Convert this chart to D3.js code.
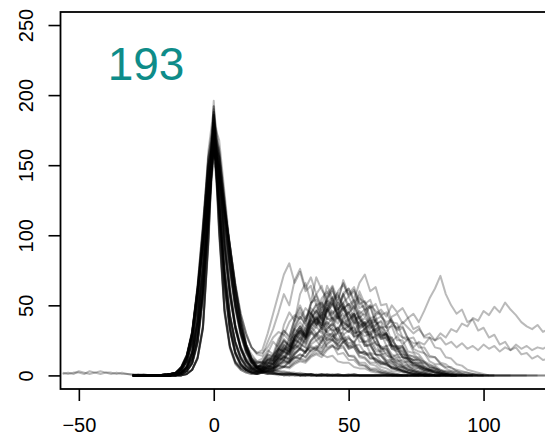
<!DOCTYPE html>
<html>
<head>
<meta charset="utf-8">
<script src="https://cdn.jsdelivr.net/npm/d3@7"></script>
<style>
body { margin: 0; background: #fff; }
svg text { font-family: "Liberation Sans", Arial, Helvetica, sans-serif; }
</style>
</head>
<body>
<div id="chart"></div>
<script>
// every run is sampled every 2 days, starting at its own first day
var step = 2;
var xTicks = [-50, 0, 50, 100];
var yTicks = [0, 50, 100, 150, 200, 250];
var label = "193";

var s01 = [0,0,0,0,0,0,0,0,1,2,6,16,38,75,125,172,140,92,58,34,19,10,5,3,6,11,9,17,22,19,30,35,28,44,38,52,46,55,41,49,37,44,33,36,25,29,18,21,13,15,9,10,6,5,3,4,2,1,1,0,0];
var s02 = [0,0,0,0,0,0,0,0,0,0,1,4,12,34,96,186,104,46,20,9,5,4,4,5,9,16,24,20,36,45,39,58,66,52,70,61,55,63,47,52,39,43,30,33,22,24,15,16,10,9,6,5,3,2,2,1,0,0];
var s03 = [0,0,0,0,0,0,1,1,2,6,14,30,60,94,132,158,145,118,92,64,40,22,12,6,3,5,4,8,11,9,15,19,16,24,28,23,33,37,31,42,45,38,44,36,40,31,34,25,27,19,20,14,14,9,9,6,5,3,3,2,1,1,0,0];
var s04 = [0,0,0,0,0,0,0,1,1,4,10,24,52,96,148,176,150,112,78,50,30,17,9,5,5,9,8,14,19,16,27,33,28,41,47,40,55,62,50,58,47,53,41,45,34,36,26,27,19,18,13,12,8,7,5,4,2,2,1,0,0];
var s05 = [0,0,0,0,0,0,0,0,1,2,5,12,30,62,112,165,156,122,86,56,34,22,15,10,12,18,15,26,32,28,40,48,39,45,36,41,31,34,25,27,19,20,14,13,9,9,6,5,3,3,2,1,0,0];
var s06 = [0,0,0,0,0,0,0,0,0,1,3,9,24,58,118,192,126,68,34,16,8,4,2,1,3,2,2,1,2,1,1,0,1,0,1,0,0,1,0,0,0,1,0,0,0,0,1,0,0,0,0,0,0,0,0,0,0,0,0,0,0,0,0,0,0,0,0,0,0,0,0];
var s07 = [0,0,0,0,0,0,1,1,2,6,14,30,60,94,132,160,145,118,92,64,44,30,20,15,14,24,33,45,58,50,68,76,62,70,58,64,50,53,41,44,33,34,24,24,16,15,10,9,6,5,3,2,1,0];
var s08 = [0,0,0,0,0,0,0,1,2,5,13,30,62,104,150,168,120,74,42,23,12,6,3,2,4,7,6,12,16,14,22,28,24,35,40,34,47,52,45,58,50,54,44,47,37,39,29,30,21,21,15,14,9,8,5,4,3,2,1,1,0,0];
var s09 = [0,0,0,0,0,0,0,0,1,2,6,17,40,79,131,180,146,96,61,36,21,12,7,6,8,13,11,19,25,21,33,38,32,44,50,41,47,39,43,33,36,27,29,21,22,15,15,10,10,6,6,4,3,2,1,1,0,0];
var s10 = [0,0,0,0,0,0,0,0,0,0,1,4,12,33,92,178,100,44,19,8,4,2,1,1,2,1,1,1,0,1,0,0,1,0,0,0,0,0,1,0,0,0,0,0,0,0,0,0,0,0,0,0,0,0,0,0,0,0,0,0,0,0,0,0,0,0,0,0,0,0,0,0,0,0,0,0,0,0];
var s11 = [0,0,0,0,0,0,0,1,1,4,10,23,50,92,142,170,146,108,75,48,29,16,9,5,5,7,6,10,13,11,16,19,16,22,25,20,27,30,23,26,20,22,16,17,12,12,8,8,5,5,3,2,1,1,0,0];
var s12 = [0,0,0,0,0,0,0,0,0,1,3,9,25,60,120,184,124,68,35,17,9,5,3,3,5,9,8,15,20,17,28,35,30,44,51,43,58,64,54,66,56,60,48,50,39,40,29,29,20,19,13,12,8,6,4,3,2,1,0,0];
var s13 = [0,0,0,0,0,0,0,0,1,2,5,12,30,62,112,165,156,122,86,56,34,19,10,5,2,3,3,5,7,6,10,12,11,15,18,16,22,25,22,29,32,28,35,38,33,40,42,36,39,32,34,26,27,20,20,14,13,9,8,5,4,3,2,1,1,0,0];
var s14 = [0,0,0,0,0,0,0,0,1,3,7,17,39,75,122,166,136,90,57,34,20,12,9,9,10,15,13,22,29,25,38,45,39,52,54,45,50,40,44,35,37,28,29,21,21,15,14,10,9,6,5,3,2,1,1,0];
var s15 = [0,0,0,0,0,0,1,1,2,6,14,31,62,96,130,152,140,114,88,60,37,20,10,6,4,3,2,2,1,2,1,1,0,1,0,0,1,0,0,0,0,0,0,0,0,0,0,0,0,0,0,0,0,0,0,0,0,0,0,0,0,0,0,0,0,0];
var s16 = [0,0,0,0,0,0,0,1,2,5,13,31,64,108,154,174,124,76,43,24,13,7,4,3,3,5,5,9,13,11,18,23,20,30,35,30,41,46,40,52,56,48,60,51,54,43,45,34,35,25,25,17,16,11,10,6,5,3,2,1,1,0,0];
var s17 = [0,0,0,0,0,0,0,1,1,4,10,24,52,96,148,176,150,112,78,50,32,20,12,9,9,14,12,19,24,21,29,35,28,32,25,28,20,22,15,16,11,11,7,7,4,4,2,2,1,0,0];
var s18 = [0,0,0,0,0,0,0,0,0,0,1,4,13,36,100,192,108,48,21,10,5,3,2,2,3,6,5,10,14,12,20,26,22,32,38,33,45,51,44,57,62,54,66,72,60,63,50,51,38,37,27,25,17,15,10,8,5,4,2,1,0,0];
var s19 = [0,0,0,0,0,0,0,0,0,1,3,8,22,54,108,170,116,62,31,15,7,4,2,1,2,2,1,1,0,0,1,0,0,0,0,0,0,0,0,0,0,0,0,0,0,0,0,0,0,0,0,0,0,0,0,0,0,0,0,0,0];
var s20 = [0,0,0,0,0,0,0,0,1,2,6,16,39,78,132,186,150,98,62,36,20,11,6,4,6,10,8,15,20,17,27,32,27,38,43,36,47,41,45,36,39,30,32,24,24,17,17,11,11,7,6,4,3,2,1,0,0];
var s21 = [0,0,0,0,0,0,0,0,1,2,5,13,31,65,118,174,162,126,88,57,35,20,11,6,7,12,11,19,26,22,35,42,37,51,57,47,53,44,48,38,40,30,31,22,22,15,14,9,8,5,4,2,1,1,0,0];
var s22 = [0,0,0,0,0,0,0,1,2,5,12,28,58,98,142,160,114,70,40,22,12,7,4,3,4,6,5,8,10,9,13,15,13,18,20,17,23,26,21,24,19,21,16,17,12,12,9,8,6,5,3,3,2,1,0,0];
var s23 = [0,0,0,0,0,0,0,1,1,4,10,25,54,100,154,182,154,114,79,51,31,18,10,6,6,11,10,18,25,21,34,42,36,51,58,49,64,55,59,48,51,40,42,31,31,22,21,14,13,8,7,4,3,2,1,0,0];
var s24 = [0,0,0,0,0,0,1,1,2,6,15,32,62,98,138,165,150,120,92,63,39,22,12,7,5,4,3,3,2,2,1,2,1,1,0,1,0,0,1,0,0,0,0,0,0,0,0,0,0,0,0,0,0,0,0,0,0,0,0,0,0,0,0,0,0,0,0,0,0,0,0,0,0,0];
var s25 = [0,0,0,0,0,0,0,0,0,1,3,9,25,60,122,196,130,70,35,17,8,4,2,2,2,3,3,4,6,5,8,10,9,13,15,13,18,21,18,24,27,23,30,33,29,36,39,34,42,44,37,41,33,35,27,27,20,19,13,12,8,7,4,3,2,1,0,0];
var s26 = [0,0,0,0,0,0,0,0,1,2,6,16,38,76,127,175,142,93,59,34,19,10,5,3,4,8,7,13,18,15,25,30,26,37,42,36,48,52,44,49,40,44,34,36,27,27,19,19,13,12,8,7,4,3,2,1,0,0];
var s27 = [0,0,0,0,0,0,0,0,1,2,5,12,30,62,112,168,158,124,90,62,42,28,20,16,18,30,44,58,72,80,66,74,60,64,50,52,40,41,30,30,21,20,13,12,8,7,4,3,2,1,0,0];
var s28 = [0,0,0,0,0,0,0,0,0,0,1,4,12,34,96,182,104,46,21,10,6,5,5,6,7,11,10,16,21,18,27,32,28,36,40,33,38,31,34,26,28,21,22,16,16,11,10,7,6,4,3,2,1,0,0];
var s29 = [0,0,0,0,0,0,0,1,2,5,13,30,62,104,150,170,121,75,42,23,12,6,3,2,3,3,2,1,1,1,0,1,0,0,0,1,0,0,0,0,0,0,0,0,0,0,0,0,0,0,0,0,0,0,0,0,0,0,0,0,0,0,0,0];
var s30 = [0,0,0,0,0,0,0,1,1,4,10,23,49,90,138,164,140,105,73,47,28,16,9,5,3,6,5,10,14,12,21,27,23,35,41,35,49,55,47,59,62,52,57,46,49,37,38,28,27,19,18,12,11,7,6,4,3,2,1,0,0];
var s31 = [0,0,0,0,0,0,1,1,2,6,14,30,60,94,132,158,145,118,92,64,40,22,12,8,9,15,14,24,32,27,41,50,41,46,36,39,29,30,21,21,14,13,8,7,4,3,2,1,0,0];
var s32 = [0,0,0,0,0,0,0,0,0,1,3,9,24,57,114,178,122,66,33,16,8,4,2,2,3,5,4,8,11,10,16,20,17,25,29,25,33,37,31,40,45,37,42,34,37,28,30,21,22,15,15,10,9,6,5,3,2,1,1,0,0];
var s33 = [0,0,0,0,0,0,0,0,1,2,6,17,41,81,136,188,152,99,62,36,20,11,6,4,5,9,8,14,19,17,27,33,29,40,46,39,52,56,47,51,42,45,35,37,27,27,19,19,12,11,7,6,4,3,2,1,0,0];
var s34 = [0,0,0,0,0,0,0,0,1,2,5,12,29,60,108,158,150,118,84,55,34,20,11,7,6,5,4,3,3,2,2,1,1,1,0,1,0,0,0,0,0,0,0,0,0,0,0,0,0,0,0,0,0,0,0,0,0,0,0,0,0,0,0,0,0,0,0,0];
var s35 = [0,0,0,0,0,0,0,1,2,5,13,30,62,104,150,168,120,74,42,23,12,7,5,5,8,12,11,17,22,19,27,32,27,35,30,32,25,26,19,20,14,14,9,9,5,5,3,2,1,1,0,0];
var s36 = [0,0,0,0,0,0,0,1,1,4,11,26,56,104,160,190,160,118,82,52,31,18,10,6,4,7,6,12,17,15,25,31,27,40,46,40,54,60,52,68,58,63,51,53,41,42,31,30,21,20,13,12,7,6,4,3,2,1,0,0];
var s37 = [0,0,0,0,0,0,0,0,1,2,6,16,38,74,123,170,138,91,57,33,18,10,5,3,3,4,4,7,9,8,12,15,13,18,21,19,25,28,25,32,35,31,38,41,36,44,47,42,50,45,48,41,44,38,46,55,62,71,58,50,44,47,38,40,32,34,27,29,22,24,18,20,15,16,12,14,11,12];
var s38 = [0,0,0,0,0,0,0,1,1,4,10,24,52,96,147,172,147,110,77,49,30,17,9,5,4,7,6,12,17,15,24,30,26,36,41,36,46,50,43,48,40,44,36,38,31,33,27,30,24,28,22,26,20,24,22,27,25,30,27,33,31,37,35,41,39,46,43,49,45,52,47,43,38,35,33,36,31,33];
var s39 = [1,2,1,3,2,1,2,3,2,1,2,1,1,0,1,0,0,0,0,1,1,2,6,14,30,60,94,132,158,145,118,92,64,40,22,12,6,2,3,3,5,6,6,9,11,10,14,16,15,19,21,19,24,26,24,29,31,28,33,35,31,36,33,38,34,30,33,28,30,25,27,22,24,20,23,19,21,18,22,19,21,17,20,18,22,19,21,18,20,19,21];
var s40 = [2,1,2,2,1,3,2,1,2,2,1,2,1,1,0,1,0,0,0,0,0,0,0,1,4,12,34,96,180,102,45,20,9,4,2,1,1,2,2,1,1,1,0,1,0,1,0,0,0,1,0,0,0,0,1,0,0,0,0,0,1,0,0,0,0,0,0,1,0,0,0,0,0,0,0,0,1,0,0,0,0,0,0,0,0,0,0,0,0,0,0];
var s41 = [0,0,0,0,0,0,0,0,0,1,3,9,24,58,118,186,124,66,33,16,8,4,2,1,2,1,1,0,1,0,0,0,0,0,0,0,0,0,0,0,0,0,0,0,0,0,0,0,0,0,0,0,0,0,0,0,0,0,0];
var s42 = [0,0,0,0,0,0,0,0,1,3,7,17,38,73,119,162,134,88,56,33,19,10,5,3,3,2,2,1,1,1,1,0,0,1,0,0,0,0,0,0,1,0,0,0,0,0,0,0,0,0,0,0,0,0,0,0,0,0,0,0,0,0,0,0,0,0,0,0,0,0,0,0,0,0,0,0];
var s43 = [0,0,0,0,0,0,0,0,1,2,6,16,39,76,127,174,141,93,59,34,19,10,6,5,7,5,12,15,13,21,26,23,31,37,34,44,48,43,52,47,44,49,40,37,41,31,28,30,21,19,20,13,11,12,7,5,6,3,2,2,1,0,0];
var s44 = [0,0,0,0,0,0,0,1,1,4,10,23,50,92,142,168,145,108,76,49,30,18,11,9,10,8,15,19,17,25,29,26,35,39,36,45,41,38,42,34,31,35,27,24,26,19,17,18,12,10,11,7,5,5,3,2,1,1,0];
var s45 = [0,0,0,0,0,0,0,0,0,1,3,9,24,58,118,180,121,65,33,16,8,4,3,2,3,2,5,7,6,10,13,12,17,20,18,24,27,25,31,34,31,37,38,33,36,30,27,29,22,20,21,15,13,13,9,7,7,4,3,3,2,1,0,0];
var s46 = [0,0,0,0,0,0,0,0,1,2,5,12,30,63,114,170,160,125,88,58,35,21,13,10,9,7,14,19,17,27,33,30,41,48,44,55,60,53,57,49,45,50,40,36,39,29,26,27,19,17,17,11,9,9,5,4,4,2,1,1,0];
var s47 = [0,0,0,0,0,0,0,1,2,5,13,29,60,101,146,165,118,73,42,24,14,9,7,6,8,11,14,13,18,21,19,22,20,17,19,15,13,14,10,9,9,6,5,5,3,2,2,1,1,0,0];
var s48 = [0,0,0,0,0,0,0,0,0,0,1,4,13,35,98,188,106,47,21,9,5,3,2,2,2,4,3,7,10,9,15,19,17,25,30,27,36,41,37,47,51,46,55,52,48,51,42,38,40,30,27,27,19,17,16,10,8,8,5,3,3,1,1,0,0];
var s49 = [0,0,0,0,0,0,1,1,2,6,14,31,61,95,134,162,147,120,93,66,44,30,20,16,16,20,27,31,29,38,43,40,48,44,40,43,35,32,34,26,23,24,17,15,15,10,8,8,5,4,3,2,1,1,0,0];
var s50 = [0,0,0,0,0,0,0,0,1,2,6,16,39,77,129,178,144,94,60,35,20,11,6,4,5,4,9,12,11,17,21,19,26,30,28,35,38,35,42,38,35,39,31,28,30,23,20,21,15,13,13,8,7,7,4,3,3,1,1,0,0];
var s51 = [0,0,0,0,0,0,0,1,1,4,11,25,54,101,156,185,156,116,80,51,31,18,10,5,3,3,5,7,6,10,13,12,17,21,19,25,29,27,34,38,35,42,46,42,50,46,43,45,37,34,35,26,23,23,16,13,13,8,6,6,3,2,2,1,0,0];
var s52 = [0,0,0,0,0,0,0,0,0,1,3,8,23,55,110,172,118,63,32,15,7,4,2,1,2,1,2,1,0,1,1,0,0,1,0,0,0,0,0,0,0,0,0,0,0,0,0,0,0,0,0,0,0,0,0,0,0,0,0,0,0,0,0,0,0,0];
var s53 = [0,0,0,0,0,0,0,0,1,2,5,13,32,66,120,180,168,130,92,60,37,21,11,7,6,5,10,13,12,18,22,20,27,31,29,34,31,28,30,24,21,23,17,15,15,10,9,9,5,4,4,2,1,1,0,0];
var s54 = [0,0,0,0,0,0,0,1,2,5,13,31,64,108,156,176,125,77,44,24,13,7,4,3,4,3,8,12,11,19,25,23,33,40,37,48,54,50,60,65,57,61,52,47,50,38,34,35,24,21,21,13,11,11,6,4,4,2,1,0,0];

var series = [s01, s02, s03, s04, s05, s06, s07, s08, s09, s10, s11, s12, s13, s14,
              s15, s16, s17, s18, s19, s20, s21, s22, s23, s24, s25, s26, s27, s28,
              s29, s30, s31, s32, s33, s34, s35, s36, s37, s38, s39, s40, s41, s42,
              s43, s44, s45, s46, s47, s48, s49, s50, s51, s52, s53, s54];
// first day of each run (two runs start earlier than the rest)
var starts = series.map((s) => (s === s39 || s === s40) ? -56 : -30);

var width = 545, height = 438;
var plotLeft = 60.5, plotTop = 12, plotBottom = 389;

var x = d3.scaleLinear()
    .domain([-56.8, 130])
    .range([plotLeft, 564.5]);

var y = d3.scaleLinear()
    .domain([-9.7, 259.3])
    .range([plotBottom, plotTop]);

var svg = d3.select("#chart")
    .append("svg")
    .attr("width", width)
    .attr("height", height);

svg.append("clipPath")
    .attr("id", "plot")
    .append("rect")
    .attr("x", plotLeft)
    .attr("y", plotTop)
    .attr("width", width)
    .attr("height", plotBottom - plotTop);

var line = d3.line()
    .x((d) => x(d[0]))
    .y((d) => y(d[1]));

svg.append("g")
    .attr("clip-path", "url(#plot)")
  .selectAll("path")
    .data(series)
    .enter()
    .append("path")
    .attr("d", (vals, i) => line(vals.map((v, j) => [starts[i] + j * step, v])))
    .attr("fill", "none")
    .attr("stroke", "#000")
    .attr("stroke-opacity", 0.27)
    .attr("stroke-width", 2)
    .attr("stroke-linejoin", "round");

// box round the plot region
svg.append("rect")
    .attr("x", plotLeft)
    .attr("y", plotTop)
    .attr("width", 600)
    .attr("height", plotBottom - plotTop)
    .attr("fill", "none")
    .attr("stroke", "#000")
    .attr("stroke-width", 1.8);

var xAxis = svg.append("g")
    .attr("transform", "translate(0," + plotBottom + ")")
    .call(d3.axisBottom(x).tickValues(xTicks).tickSize(12).tickSizeOuter(0).tickPadding(17));
xAxis.select(".domain").remove();

var yAxis = svg.append("g")
    .attr("transform", "translate(" + plotLeft + ",0)")
    .call(d3.axisLeft(y).tickValues(yTicks).tickSize(12).tickSizeOuter(0));
yAxis.select(".domain").remove();
yAxis.selectAll("text")
    .attr("x", 0)
    .attr("dy", 0)
    .attr("text-anchor", "middle")
    .attr("transform", "translate(-28,0) rotate(-90)");

svg.selectAll(".tick line").attr("stroke-width", 1.6);
svg.selectAll(".tick text")
    .attr("font-family", "Liberation Sans, Arial, sans-serif")
    .attr("font-size", "20px")
    .attr("fill", "#000");

svg.append("text")
    .attr("x", 146)
    .attr("y", 80)
    .attr("text-anchor", "middle")
    .attr("font-size", "46px")
    .attr("fill", "#0e8c89")
    .text(label);
</script>
</body>
</html>
